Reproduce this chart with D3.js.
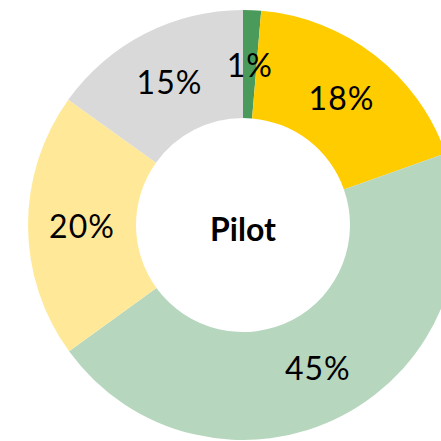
<!DOCTYPE html>
<html>
<head>
<meta charset="utf-8">
<script src="https://cdn.jsdelivr.net/npm/d3@7"></script>
<style>
  html, body { margin: 0; padding: 0; background: #fff; }
  svg { display: block; }
</style>
</head>
<body>
<svg id="chart" width="441" height="441"></svg>
<script>
const categories = ["A", "B", "C", "D", "E"];
const values = [1.35, 18.25, 45.4, 19.9, 15.1];
const colors = ["#4a9a5c", "#ffcc00", "#b6d6be", "#ffe999", "#d9d9d9"];
const labels = ["1%", "18%", "45%", "20%", "15%"];
const title = "Pilot";

const svg = d3.select("#chart");
const cx = 243, cy = 225, outerR = 215, innerR = 107;
const g = svg.append("g").attr("transform", `translate(${cx},${cy})`);

const pie = d3.pie().sort(null).value(d => d.v);
const data = categories.map((c, i) => ({ c, v: values[i], col: colors[i], lab: labels[i] }));
const arcs = pie(data);
const arc = d3.arc().innerRadius(innerR).outerRadius(outerR);

g.selectAll("path").data(arcs).join("path")
  .attr("d", arc)
  .attr("fill", d => d.data.col);

g.selectAll("text.lab").data(arcs).join("text")
  .attr("class", "lab")
  .attr("transform", d => `translate(${arc.centroid(d)})`)
  .attr("text-anchor", "middle")
  .attr("dominant-baseline", "central")
  .style("font-family", "Lato, 'Open Sans', sans-serif")
  .style("font-size", "32px")
  .style("letter-spacing", "1px")
  .attr("fill", "#000")
  .text(d => d.data.lab);

g.append("text")
  .attr("x", 0).attr("y", 3)
  .attr("text-anchor", "middle")
  .attr("dominant-baseline", "central")
  .style("font-family", "Lato, 'Open Sans', sans-serif")
  .style("font-weight", "bold")
  .style("font-size", "32px")
  .attr("fill", "#000")
  .text(title);
</script>
</body>
</html>
